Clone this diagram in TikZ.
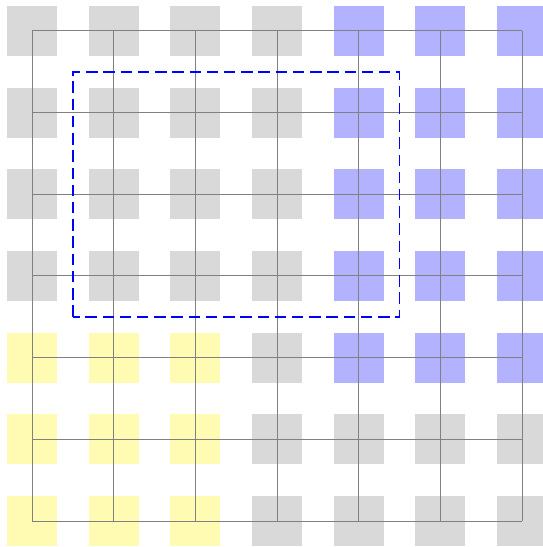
\documentclass[tikz,border=0pt]{standalone}
\begin{document}
\begin{tikzpicture}[x=1cm,y=1cm,
  cell/.style={fill=#1, draw=none},
  gridline/.style={draw=black!50, line width=0.35pt},
  region/.style={draw=blue, dash pattern=on 4pt off 2pt, line width=0.5pt}]
\useasboundingbox (-0.392,-0.318) rectangle (6.245,6.379);
\def\h{0.306}
\foreach \x in {0,...,6}{
  \foreach \y in {0,...,6}{
    \pgfmathtruncatemacro{\isblue}{(\x>3)&&(\y>1)}
    \pgfmathtruncatemacro{\isyellow}{(\x<3)&&(\y<3)}
    \ifnum\isblue=1
      \fill[cell=blue!30] (\x-\h,\y-\h) rectangle (\x+\h,\y+\h);
    \else\ifnum\isyellow=1
      \fill[cell=yellow!30] (\x-\h,\y-\h) rectangle (\x+\h,\y+\h);
    \else
      \fill[cell=black!15] (\x-\h,\y-\h) rectangle (\x+\h,\y+\h);
    \fi\fi
  }
}
\draw[gridline] (0,0) grid (6,6);
\draw[region] (0.5,2.5) rectangle (4.5,5.5);
\end{tikzpicture}
\end{document}
